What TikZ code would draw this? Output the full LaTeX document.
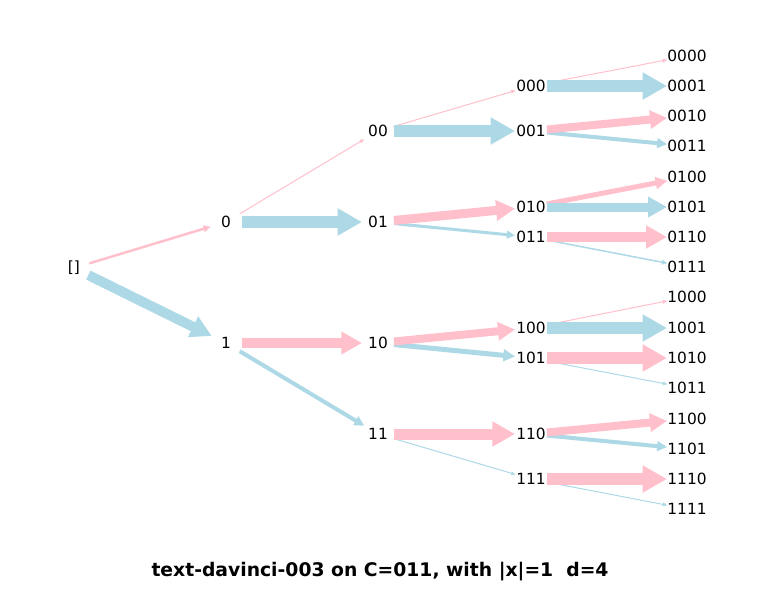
\documentclass[tikz,border=0pt]{standalone}
\usepackage{fontspec}
\setmainfont{DejaVu Sans}
\usetikzlibrary{arrows.meta,calc}
\definecolor{pinkc}{RGB}{255,192,203}
\definecolor{bluec}{RGB}{173,216,230}
\tikzset{
  lbl/.style={inner sep=0pt,font=\fontsize{11.1}{13}\selectfont},
  wd/.style={line width=#1*0.72pt},
  pinkflow/.style={draw=pinkc,-{Triangle[length=2pt 1.8,width=1.2pt 2]}},
  blueflow/.style={draw=bluec,-{Triangle[length=2pt 1.8,width=1.2pt 2]}}
}
% #1 from, #2 to, #3 width in px, #4 style, #5 end gap
\newcommand{\flow}[5]{\draw[#4,wd=#3] ($(#1)!11.5pt!(#2)$) -- ($(#2)!#5!(#1)$);}

\begin{document}
\begin{tikzpicture}[x=0.72pt,y=-0.72pt]
		\useasboundingbox (0,0) rectangle (761,592);
		% tree levels
		\node[lbl] (r) at (74,268) {[]};
		\node[lbl] (n0) at (226,222) {0};
		\node[lbl] (n1) at (226,343) {1};
		\node[lbl] (n00) at (378,131) {00};
		\node[lbl] (n01) at (378,222) {01};
		\node[lbl] (n10) at (378,343) {10};
		\node[lbl] (n11) at (378,434) {11};
		\node[lbl] (n000) at (531,86) {000};
		\node[lbl] (n001) at (531,131) {001};
		\node[lbl] (n010) at (531,207) {010};
		\node[lbl] (n011) at (531,237) {011};
		\node[lbl] (n100) at (531,328) {100};
		\node[lbl] (n101) at (531,358) {101};
		\node[lbl] (n110) at (531,434) {110};
		\node[lbl] (n111) at (531,479) {111};
		\node[lbl] (n0000) at (687,56) {0000};
		\node[lbl] (n0001) at (687,86) {0001};
		\node[lbl] (n0010) at (687,116) {0010};
		\node[lbl] (n0011) at (687,146) {0011};
		\node[lbl] (n0100) at (687,177) {0100};
		\node[lbl] (n0101) at (687,207) {0101};
		\node[lbl] (n0110) at (687,237) {0110};
		\node[lbl] (n0111) at (687,267) {0111};
		\node[lbl] (n1000) at (687,297) {1000};
		\node[lbl] (n1001) at (687,328) {1001};
		\node[lbl] (n1010) at (687,358) {1010};
		\node[lbl] (n1011) at (687,388) {1011};
		\node[lbl] (n1100) at (687,419) {1100};
		\node[lbl] (n1101) at (687,449) {1101};
		\node[lbl] (n1110) at (687,479) {1110};
		\node[lbl] (n1111) at (687,509) {1111};
		% flows, thin ones first
		\flow{r}{n0}{2.5}{pinkflow}{11.5pt}
		\flow{r}{n1}{10}{blueflow}{11.5pt}
		\flow{n0}{n00}{1}{pinkflow}{11.5pt}
		\flow{n0}{n01}{12}{blueflow}{11.5pt}
		\flow{n1}{n11}{4}{blueflow}{11.5pt}
		\flow{n1}{n10}{10}{pinkflow}{11.5pt}
		\flow{n00}{n000}{1}{pinkflow}{11.5pt}
		\flow{n00}{n001}{12}{blueflow}{11.5pt}
		\flow{n01}{n011}{3}{blueflow}{11.5pt}
		\flow{n01}{n010}{9}{pinkflow}{11.5pt}
		\flow{n10}{n101}{5}{blueflow}{11.5pt}
		\flow{n10}{n100}{8}{pinkflow}{11.5pt}
		\flow{n11}{n111}{1}{blueflow}{11.5pt}
		\flow{n11}{n110}{11}{pinkflow}{11.5pt}
		\flow{n000}{n0000}{1}{pinkflow}{14.4pt}
		\flow{n000}{n0001}{12}{blueflow}{14.4pt}
		\flow{n001}{n0011}{4}{blueflow}{14.4pt}
		\flow{n001}{n0010}{8}{pinkflow}{14.4pt}
		\flow{n010}{n0100}{5}{pinkflow}{14.4pt}
		\flow{n010}{n0101}{9}{blueflow}{14.4pt}
		\flow{n011}{n0111}{1.5}{blueflow}{14.4pt}
		\flow{n011}{n0110}{10}{pinkflow}{14.4pt}
		\flow{n100}{n1000}{1}{pinkflow}{14.4pt}
		\flow{n100}{n1001}{12}{blueflow}{14.4pt}
		\flow{n101}{n1011}{1}{blueflow}{14.4pt}
		\flow{n101}{n1010}{12}{pinkflow}{14.4pt}
		\flow{n110}{n1101}{4}{blueflow}{14.4pt}
		\flow{n110}{n1100}{8}{pinkflow}{14.4pt}
		\flow{n111}{n1111}{1}{blueflow}{14.4pt}
		\flow{n111}{n1110}{12}{pinkflow}{14.4pt}
		% title
		\node[font=\bfseries\fontsize{13.5}{16}\selectfont] (title) at (380,572) {text-davinci-003 on C=011, with |x|=1\ \ d=4};
\end{tikzpicture}
\end{document}
